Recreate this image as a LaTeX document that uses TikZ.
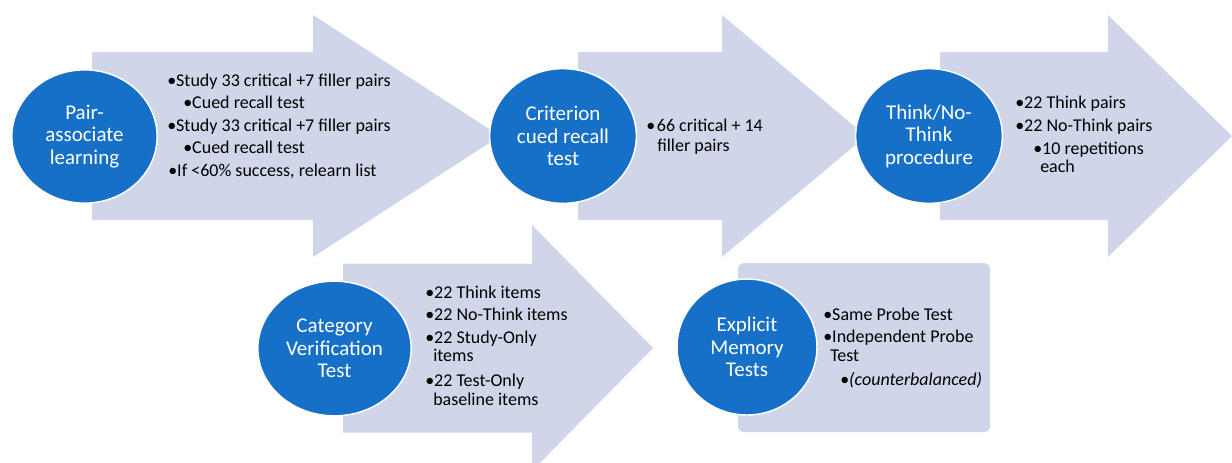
\documentclass[tikz,border=0pt]{standalone}
\usepackage{fontspec}
\setmainfont{Carlito}
\usetikzlibrary{shapes.geometric}
\definecolor{bandfill}{RGB}{208,214,234}
\definecolor{stageblue}{RGB}{23,112,199}

\begin{document}
\begin{tikzpicture}[x=0.75pt,y=-0.75pt]
  \tikzset{band/.style = {fill=bandfill}}
  \tikzset{stage/.style = {shape=ellipse,fill=stageblue,draw=white,line width=1.1pt,inner sep=0pt,
                           text=white,align=center,font=\fontsize{15.75}{16.9}\selectfont}}
  \tikzset{item/.style = {anchor=base west,inner sep=0pt,font=\fontsize{13.5}{16}\selectfont}}

  \clip (0,0) rectangle (1232,462);

  % block arrows
  \foreach \bl/\hb/\tx/\cy/\bw/\hw in {92/313/500/136/84/121, 578/722/866/136/84/121,
                                        940/1108/1232/136/84/121, 343/532/653/348/84.5/123}
    \fill[band] (\bl,\cy-\bw) -- (\hb,\cy-\bw) -- (\hb,\cy-\hw) -- (\tx,\cy)
                -- (\hb,\cy+\hw) -- (\hb,\cy+\bw) -- (\bl,\cy+\bw) -- cycle;
  \fill[band,rounded corners=4] (738,263) rectangle (990,432);

	\node[stage,minimum width=109pt,minimum height=100pt] (pair) at (84.5,136.5) {Pair-\\associate\\learning};
	\node[stage,minimum width=110pt,minimum height=101pt] (crit) at (563,136) {Criterion\\cued recall\\test};
	\node[stage,minimum width=110pt,minimum height=101pt] (think) at (929,136) {Think/No-\\Think\\procedure};
	\node[stage,minimum width=115pt,minimum height=101pt] (catver) at (334.5,348.5) {Category\\Verification\\Test};
	\node[stage,minimum width=105pt,minimum height=102pt] (explicit) at (747,347) {Explicit\\Memory\\Tests};

  % bullet lists
  \foreach \n/\x/\y/\t in {1/167/86/{•Study 33 critical +7 filler pairs}, 2/183/108.5/{•Cued recall test},
                           3/167/131/{•Study 33 critical +7 filler pairs}, 4/183/153.5/{•Cued recall test},
                           5/168/176/{•If <60\% success, relearn list}}
    \node[item] (pa\n) at (\x,\y) {\t};
  \foreach \n/\x/\y/\t in {1/646/131.5/{\makebox[8pt][l]{•}66 critical + 14}, 2/657/151.5/{filler pairs}}
    \node[item] (cr\n) at (\x,\y) {\t};
  \foreach \n/\x/\y/\t in {1/1015/108/{•22 Think pairs}, 2/1015/131/{•22 No-Think pairs},
                           3/1033/154/{•10 repetitions}, 4/1040/172.5/{each}}
    \node[item] (tn\n) at (\x,\y) {\t};
  \foreach \n/\x/\y/\t in {1/425/298/{•22 Think items}, 2/425/320.5/{•22 No-Think items},
                           3/425/343/{•22 Study-Only}, 4/433/361.5/{items},
                           5/425/386.5/{•22 Test-Only}, 6/433/405/{baseline items}}
    \node[item] (cv\n) at (\x,\y) {\t};
  \foreach \n/\x/\y/\t in {1/823/320/{•Same Probe Test}, 2/823/342.5/{•Independent Probe},
                           3/830/361.5/{Test}, 4/840/385/{•\textit{(counterbalanced)}}}
    \node[item] (em\n) at (\x,\y) {\t};
\end{tikzpicture}
\end{document}
